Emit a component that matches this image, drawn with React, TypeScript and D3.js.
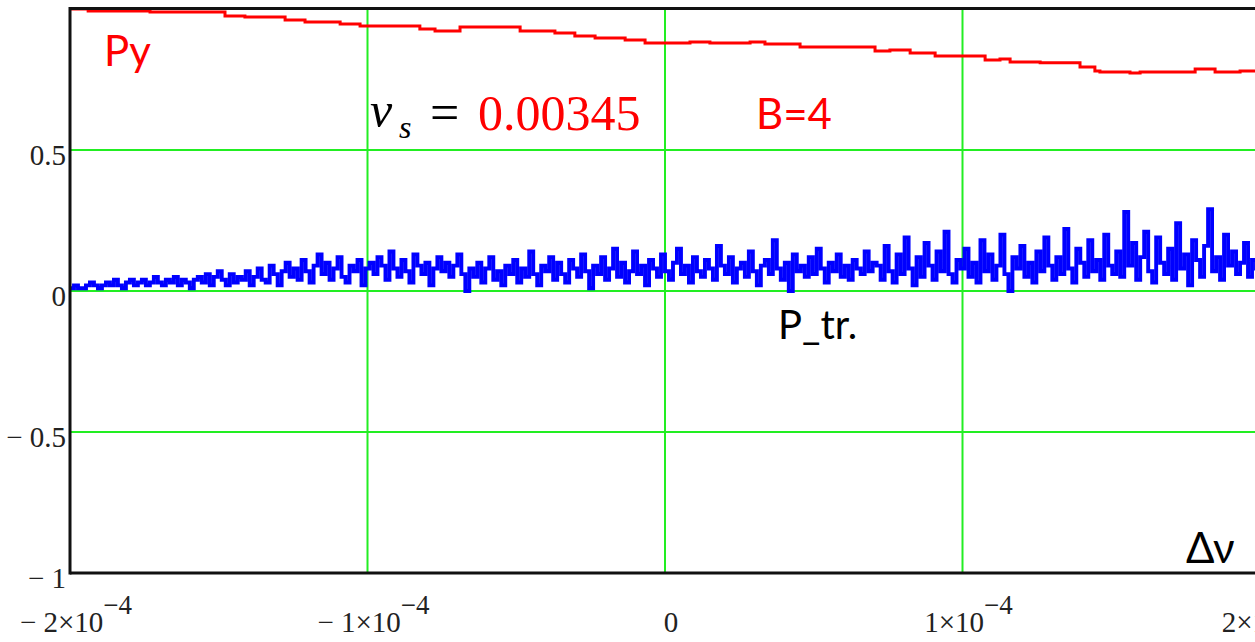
import React from "react";
import * as d3 from "d3";

// Py (red) step breakpoints: Δν in units of 1e-4, value
const pyNu = [-2.0, -1.939, -1.731, -1.479, -1.412, -1.277, -1.21, -1.092, -1.025, -0.824, -0.773, -0.689, -0.487, -0.37, -0.303, -0.235, -0.134, -0.067, 0.084, 0.151, 0.286, 0.336, 0.454, 0.706, 0.756, 0.824, 0.908, 1.076, 1.126, 1.16, 1.261, 1.395, 1.445, 1.462, 1.563, 1.597, 1.782, 1.849, 1.933, 2.0];
const pyVal = [1.0, 0.993, 0.989, 0.975, 0.972, 0.961, 0.954, 0.947, 0.94, 0.929, 0.922, 0.936, 0.922, 0.915, 0.904, 0.897, 0.89, 0.879, 0.883, 0.879, 0.883, 0.876, 0.865, 0.851, 0.855, 0.844, 0.833, 0.819, 0.823, 0.812, 0.809, 0.794, 0.78, 0.777, 0.773, 0.777, 0.787, 0.777, 0.78, 0.777];

// P_tr (blue) values in percent, evenly spaced over Δν ∈ [-2e-4, 2e-4]
const pTrPercent = [
  1, 2, 1, 1, 2, 3, 2, 1, 2, 3, 2, 4, 2, 1, 3, 4, 2, 3,
  4, 2, 3, 5, 3, 2, 4, 3, 5, 2, 4, 3, 1, 4, 5,
  3, 6, 2, 5, 7, 4, 2, 6, 3, 5, 4, 7, 2,
  5, 8, 4, 3, 9, 6, 2, 7, 10, 5, 8, 4, 11,
  7, 3, 9, 13, 6, 10, 4, 8, 12, 5, 3, 9, 7, 11, 2, 8, 10,
  6, 12, 9, 4, 14, 8, 5, 11, 7, 3, 13, 9, 6, 10, 2, 8, 12, 7, 10, 5, 9, 13, 6, 0, 8,
  5, 10, 3, 8, 12, 4, 7, 2, 9, 6, 11, 3, 8, 5, 14, 6, 2, 9, 7, 12, 4, 10, 6, 3, 11, 8, 5, 13, 7, 1, 9, 6, 12, 4, 8, 15, 5, 10, 3, 7, 14, 6, 9, 2, 11, 8, 5, 13, 7, 4, 10, 15, 6, 9, 3, 12, 7, 5, 11, 8, 4, 16, 9, 6, 12, 3, 8, 10, 5, 14, 7, 2, 9, 11, 6, 18, 8, 4, 10, 0, 13, 7, 9, 5, 12, 6, 15, 8, 3, 10, 7, 13, 5, 9, 4, 11, 8, 6, 14, 7, 10,
  9, 4, 16, 7, 3, 13, 6, 19, 8, 2, 12, 5, 17, 9, 4, 14, 7, 21, 6, 3, 11, 8, 15, 5, 10, 3, 18, 7, 13, 4, 9, 20, 6, 0, 12, 8, 16, 5, 10, 3, 14, 7, 19, 9, 4, 12, 6, 22, 8, 3, 15, 10, 5, 18, 7, 11, 4, 20, 9, 6,
  14, 5, 28, 9, 17, 4, 12, 21, 7, 3, 19, 10, 6, 15, 4, 24, 8, 13, 2, 18, 11, 5, 16, 29, 7, 12, 4, 20, 9, 14, 6, 10, 17, 5, 11, 8, 13,
];

const xTicks = [-2e-4, -1e-4, 0, 1e-4, 2e-4];
const xTickMantissa = ["− 2×10", "− 1×10", "0", "1×10", "2×10"];
const xTickExponent = ["−4", "−4", "", "−4", "−4"];
const yTicks = [-1, -0.5, 0, 0.5];
const yTickLabels = ["− 1", "− 0.5", "0", "0.5"];
const gridX = [-1e-4, 0, 1e-4];
const gridY = [-0.5, 0, 0.5];

export default function App() {
  const W = 1255, H = 642;
  const x = d3.scaleLinear().domain([-2e-4, 2e-4]).range([70, 1260]);
  const y = d3.scaleLinear().domain([-1, 1]).range([573, 9]);

  const redData = pyNu.map((n, i) => [n * 1e-4, pyVal[i]] as [number, number]);
  const n = pTrPercent.length;
  const blueData = pTrPercent.map((v, i) => [-2e-4 + (i * 4e-4) / (n - 1), v / 100] as [number, number]);

  const line = d3.line<[number, number]>().x(d => x(d[0])).y(d => y(d[1])).curve(d3.curveStepAfter);

  const sans = "Lato, 'Open Sans', sans-serif";
  const serif = "'Liberation Serif', 'Times New Roman', serif";

  return (
    <svg width={W} height={H} style={{ position: "absolute", left: 0, top: 0, background: "#fff" }}>
      <defs>
        <clipPath id="plot">
          <rect x={70} y={7} width={1200} height={567} />
        </clipPath>
      </defs>
      <rect x={0} y={0} width={W} height={H} fill="#fff" />
      {gridX.map((v, i) => (
        <line key={"gx" + i} x1={x(v)} x2={x(v)} y1={y(1)} y2={y(-1)} stroke="#22ee22" strokeWidth={2} />
      ))}
      {gridY.map((v, i) => (
        <line key={"gy" + i} x1={x(-2e-4)} x2={W} y1={y(v)} y2={y(v)} stroke="#22ee22" strokeWidth={2} />
      ))}
      <g clipPath="url(#plot)">
        <path d={line(blueData) || ""} fill="none" stroke="#0000ff" strokeWidth={3.9} strokeLinejoin="miter" />
        <path d={line(redData) || ""} fill="none" stroke="#ff0000" strokeWidth={3} />
      </g>
      {/* frame */}
      <line x1={x(-2e-4)} x2={W} y1={y(1) - 0.5} y2={y(1) - 0.5} stroke="#111" strokeWidth={3} />
      <line x1={x(-2e-4)} x2={W} y1={y(-1)} y2={y(-1)} stroke="#111" strokeWidth={3} />
      <line x1={x(-2e-4)} x2={x(-2e-4)} y1={y(1) - 2} y2={y(-1) + 1.5} stroke="#111" strokeWidth={3} />

      {yTicks.map((v, i) => (
        <text key={"yt" + i} x={66} y={y(v) + 15} textAnchor="end" fontFamily={serif} fontSize={29} fill="#222">
          {yTickLabels[i]}
        </text>
      ))}
      {xTicks.map((v, i) => (
        <text key={"xt" + i} x={x(v) + 6} y={632} textAnchor="middle" fontFamily={serif} fontSize={29} fill="#222">
          {xTickMantissa[i]}
          {xTickExponent[i] ? (
            <tspan dy={-18} fontSize={27}>{xTickExponent[i]}</tspan>
          ) : null}
        </text>
      ))}

      <text x={104} y={66} fontFamily={sans} fontSize={42} fill="#ff0000">Py</text>
      <text x={370} y={127} fontFamily={serif} fontSize={50} fontStyle="italic" fill="#000">ν</text>
      <text x={399} y={138} fontFamily={serif} fontSize={32} fontStyle="italic" fill="#000">s</text>
      <text x={430} y={130} fontFamily={serif} fontSize={52} fill="#000">=</text>
      <text x={478} y={130} fontFamily={serif} fontSize={50} fill="#ff0000">0.00345</text>
      <text x={756} y={129} fontFamily={sans} fontSize={42} fill="#ff0000">B=4</text>
      <text x={778} y={339} fontFamily={sans} fontSize={40} fill="#000">P_tr.</text>
      <text x={1186} y={563} fontFamily={sans} fontSize={42} fill="#000">Δν</text>
    </svg>
  );
}
